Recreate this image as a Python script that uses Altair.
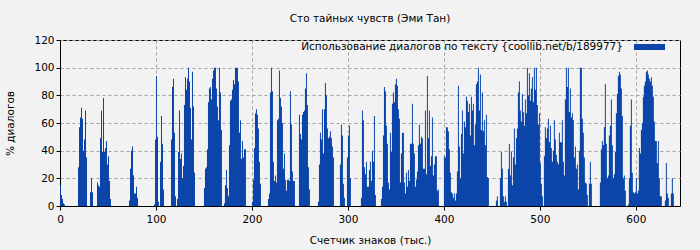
import altair as alt
import pandas as pd

TITLE = "Сто тайных чувств (Эми Тан)"
LEGEND = "Использование диалогов по тексту {coollib.net/b/189977}"
X_TITLE = "Счетчик знаков (тыс.)"
Y_TITLE = "% диалогов"

# thousand characters covered by one bar
STEP = 1.0417

# % of dialogue per sample, read left to right
seg_a = [15, 8, 5, 2, 1, 0, 0, 0, 0, 0, 0, 0, 0, 0, 0, 0, 0, 0,
         28, 57, 64, 71, 63, 40, 48, 69, 35, 0, 0, 0, 10, 20, 10, 0, 0, 0, 0,
         17, 15, 14, 49, 69, 39, 78, 39, 42, 47, 30, 36, 18, 5,
         0, 0, 0, 0, 0, 0, 0, 0, 0, 0, 0, 0, 0, 0, 0, 0, 0, 0,
         4, 27, 40, 43, 22, 9, 9, 14, 6,
         0, 0, 0, 0, 0, 0, 0, 0, 0, 0, 0, 0, 0, 0, 0, 0,
         1, 48, 94, 50, 3, 0, 32, 65, 45, 12]
seg_b = [0, 0, 0, 0, 0, 0, 0,
         48, 86, 92, 53, 7, 0, 5,
         39, 69, 34, 38, 20, 29, 73, 93, 84, 92, 100, 90, 71, 48, 97, 72, 24,
         0, 0, 0, 0, 0, 0, 0, 0, 0,
         13, 27, 28, 41, 75, 85, 86, 77, 92, 98, 100,
         100, 85, 72, 62, 100, 82, 55, 0, 0,
         2, 15, 26, 13, 7, 44, 76, 77, 84, 91, 88, 100, 100, 100, 90, 53, 62, 34, 47, 35, 41, 41,
         0, 0, 0, 0, 0, 0,
         3, 19, 42, 67, 70, 66, 56, 32, 16,
         0, 0, 0, 0, 0, 0, 0]
seg_c = [5, 9, 82, 100, 83, 32, 18, 22, 17, 62, 63, 98, 78, 72, 60, 27, 38, 19, 11, 19, 19, 18, 83, 59, 25, 18, 18,
         0, 0, 0, 0,
         66, 52, 48, 66, 68, 69, 85, 96, 73, 28, 12,
         0, 0, 0, 0, 0, 0, 0, 0, 3,
         30, 53, 48, 70, 38, 70, 89, 80, 56, 49, 50, 54, 49, 43, 35,
         0, 0, 0, 0, 0, 0,
         30, 59, 51, 16, 6, 0, 0, 35, 51, 58, 20,
         0, 0, 0, 0, 0, 0, 0, 0, 0, 0,
         6, 69, 62, 28, 23, 32, 14, 14, 26, 32,
         18, 40, 32, 65, 8, 0, 0, 0, 0, 0]
seg_d = [5, 14, 51, 86, 83, 58, 45, 17, 12, 53, 39, 74, 82, 75, 88, 92, 87, 70, 63, 17,
         38, 53, 53, 17, 9, 24, 14, 26, 18, 45, 45, 74, 45, 38, 14, 19, 25, 44, 59, 45,
         50, 49, 27, 27, 69, 23, 94, 49, 69, 29, 36, 64, 22, 30, 36, 36, 11, 12,
         0, 0, 0, 0, 0,
         36, 35, 57, 57, 54, 41, 24, 10, 9, 6, 9, 4, 9, 25, 87, 43, 20, 52, 69, 38,
         61, 57, 79, 76, 68, 74, 51, 79, 69, 74, 44]
seg_e = [59, 88, 90, 100, 69, 95, 55, 82, 54, 62, 44, 66, 21, 20,
         0, 0, 0, 0, 0, 0, 0, 4, 7, 0, 0,
         20, 39, 27, 7, 3, 7, 3, 0,
         27, 45, 22, 39, 15, 35, 56, 30, 49, 56, 82, 90, 69, 61, 81, 68, 58, 77, 67,
         100, 80, 96, 76, 85, 93, 75, 100, 84, 100, 73, 59, 67, 31, 16, 7, 0,
         36, 57, 49, 56, 63, 46, 58, 42, 32, 40, 62, 48, 37, 32, 30, 53, 46, 46, 62, 32,
         22, 77, 100, 86, 100, 68, 85, 64, 67, 62, 35, 43, 27, 30, 12]
seg_f = [40, 100, 100, 63, 53, 35, 17, 16, 8, 0, 16, 32, 16,
         0, 0, 0, 0, 0, 0, 0, 0,
         17, 41, 47, 44, 57, 88, 45, 20, 22, 51, 58, 77, 44, 20, 23, 39, 67, 81, 94, 97,
         95, 85, 65, 20, 22, 11, 0, 0, 1,
         20, 58, 77, 24, 10, 9, 10, 20, 9, 11, 42, 38, 55, 60, 79, 87, 90, 97, 98, 95,
         92, 90, 93, 87, 79, 61, 47, 47, 31, 47, 20, 7, 7,
         0, 0, 0, 4, 31, 9, 6, 0, 0, 9, 20, 9]

values = seg_a + seg_b + seg_c + seg_d + seg_e + seg_f
# step-after area: each value holds until the next sample; closing sample at the end
xs = [i * STEP for i in range(len(values) + 1)]
ys = values + [0]
df = pd.DataFrame({"x": xs, "pct": ys})

FONT = "DejaVu Sans"
FS = 10.5
BLUE = "#0b45aa"

bars = alt.Chart(df).mark_area(color=BLUE, interpolate="step-after", opacity=1).encode(
    x=alt.X("x:Q", scale=alt.Scale(domain=[0, 646], nice=False, zero=True),
            axis=alt.Axis(values=[0, 100, 200, 300, 400, 500, 600], title=X_TITLE,
                          labelFlush=False, labelPadding=4,
                          titleX=310, titleY=34, titleBaseline="middle")),
    y=alt.Y("pct:Q", scale=alt.Scale(domain=[0, 120], nice=False),
            axis=alt.Axis(values=[0, 20, 40, 60, 80, 100, 120], title=Y_TITLE,
                          labelFlush=False,
                          titleX=-50, titleY=83, titleBaseline="middle", titleAlign="center")),
)

legend_rect = alt.Chart(df.head(1)).mark_rect(color=BLUE).encode(
    x=alt.value(574), x2=alt.value(605), y=alt.value(4), y2=alt.value(10)
)
legend_text = alt.Chart(df.head(1)).mark_text(
    text=LEGEND, align="right", baseline="middle", font=FONT, fontSize=FS, color="#000000"
).encode(x=alt.value(563), y=alt.value(7))

chart = alt.layer(bars, legend_rect, legend_text).properties(
    width=620, height=166,
    padding={"left": 60, "top": 40, "right": 20, "bottom": 44},
    autosize="none",
    background="#f2f2f2",
    title=alt.TitleParams(TITLE, font=FONT, fontSize=FS, fontWeight="normal",
                          anchor="middle", offset=11, color="#000000"),
).configure_view(
    fill="#f2f2f2", stroke="#000000", strokeWidth=1
).configure_axis(
    labelFont=FONT, labelFontSize=FS, labelColor="#000000",
    titleFont=FONT, titleFontSize=FS, titleFontWeight="normal", titleColor="#000000",
    domainColor="#000000", tickColor="#000000", tickSize=4, labelPadding=2,
    gridColor="#a0a0a0", gridDash=[3, 3], gridWidth=1,
)

chart.save("out.html", embed_options={"renderer": "svg", "actions": False})
